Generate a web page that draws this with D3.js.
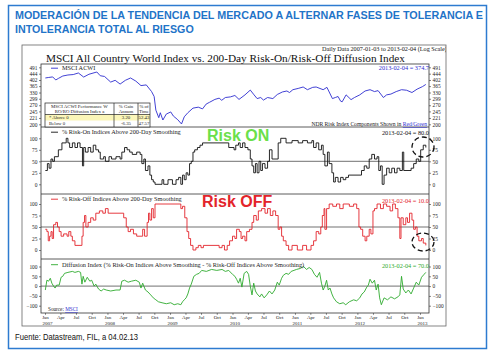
<!DOCTYPE html>
<html>
<head>
<meta charset="utf-8">
<script src="https://cdn.jsdelivr.net/npm/d3@7"></script>
<style>
  body { margin: 0; background: #fff; }
  svg { display: block; }
</style>
</head>
<body>
<svg id="chart" width="493" height="354"></svg>
<script>
// ---- data ----
const msci = [
  ["2007-01-03",415],["2007-01-20",418],["2007-02-15",422],["2007-03-05",402],["2007-03-20",412],
  ["2007-04-15",428],["2007-05-15",435],["2007-06-15",438],["2007-07-15",449],["2007-08-15",421],
  ["2007-09-15",440],["2007-10-31",456],["2007-11-20",430],["2007-12-15",425],["2008-01-20",389],
  ["2008-02-15",400],["2008-03-15",377],["2008-04-15",400],["2008-05-15",415],["2008-06-15",395],
  ["2008-07-15",368],["2008-08-15",372],["2008-09-15",335],["2008-09-30",310],["2008-10-10",250],
  ["2008-10-27",222],["2008-11-05",240],["2008-11-20",214],["2008-12-10",235],["2009-01-05",243],
  ["2009-01-20",228],["2009-02-15",215],["2009-03-09",201],["2009-03-25",225],["2009-04-15",240],
  ["2009-05-15",258],["2009-06-15",262],["2009-07-10",255],["2009-07-31",275],["2009-08-20",283],
  ["2009-09-20",296],["2009-10-15",302],["2009-10-30",292],["2009-11-20",305],["2009-12-20",308],
  ["2010-01-15",315],["2010-02-08",296],["2010-03-15",318],["2010-04-15",343],["2010-05-07",318],
  ["2010-05-25",300],["2010-06-15",305],["2010-07-01",293],["2010-07-25",305],["2010-08-25",300],
  ["2010-09-20",320],["2010-10-20",333],["2010-11-15",338],["2010-11-30",330],["2010-12-20",345],
  ["2011-01-20",352],["2011-02-18",360],["2011-03-15",345],["2011-04-15",358],["2011-05-05",360],
  ["2011-06-15",345],["2011-07-07",358],["2011-08-08",300],["2011-08-25",305],["2011-09-10",310],
  ["2011-09-25",288],["2011-10-04",285],["2011-10-27",318],["2011-11-25",295],["2011-12-15",305],
  ["2012-01-15",318],["2012-02-15",338],["2012-03-15",345],["2012-04-10",335],["2012-05-01",340],
  ["2012-06-01",305],["2012-06-20",318],["2012-07-15",322],["2012-08-15",335],["2012-09-15",345],
  ["2012-10-15",342],["2012-11-15",330],["2012-12-15",348],["2013-01-15",362],["2013-02-04",374.7]
];

const riskOn = [
  ["2007-01-03",30],["2007-01-15",45],["2007-01-25",35],["2007-02-05",55],["2007-02-15",50],["2007-02-25",60],
  ["2007-03-20",75],["2007-04-10",90],["2007-05-05",100],["2007-05-15",90],["2007-05-25",80],["2007-06-10",90],
  ["2007-06-25",80],["2007-07-10",90],["2007-07-25",80],["2007-08-08",40],["2007-08-15",80],["2007-08-25",70],
  ["2007-09-10",80],["2007-09-25",70],["2007-10-10",85],["2007-10-25",75],["2007-11-10",70],["2007-11-20",55],
  ["2007-12-10",60],["2007-12-20",50],["2008-01-10",60],["2008-01-25",55],["2008-02-20",60],["2008-03-15",55],
  ["2008-03-25",70],["2008-04-10",80],["2008-04-25",75],["2008-05-10",70],["2008-05-25",65],["2008-06-20",70],
  ["2008-07-10",65],["2008-07-20",45],["2008-08-01",55],["2008-08-10",30],["2008-08-25",40],["2008-09-05",20],
  ["2008-09-15",10],["2008-09-25",5],["2008-10-05",0],["2008-11-15",10],["2008-11-25",0],["2008-12-20",10],
  ["2009-01-15",0],["2009-02-05",10],["2009-02-20",15],["2009-03-05",0],["2009-03-15",20],["2009-03-25",10],
  ["2009-04-05",25],["2009-04-15",20],["2009-04-25",45],["2009-05-05",50],["2009-05-15",70],["2009-05-25",75],
  ["2009-06-10",80],["2009-06-25",85],["2009-07-10",90],["2009-12-10",80],["2010-01-10",75],["2010-01-20",85],
  ["2010-02-05",90],["2010-02-15",80],["2010-03-01",90],["2010-03-15",80],["2010-04-01",75],["2010-04-15",55],
  ["2010-04-25",40],["2010-05-05",25],["2010-05-15",45],["2010-05-25",25],["2010-06-05",50],["2010-06-15",30],
  ["2010-06-25",45],["2010-07-10",35],["2010-07-25",50],["2010-08-05",75],["2010-08-20",55],["2010-09-25",90],
  ["2010-10-10",100],["2010-11-10",90],["2010-12-15",95],["2011-01-20",90],["2011-02-15",95],["2011-03-15",90],
  ["2011-04-10",95],["2011-04-20",80],["2011-05-05",90],["2011-05-20",75],["2011-06-05",85],["2011-06-15",65],
  ["2011-06-25",40],["2011-07-10",70],["2011-07-20",45],["2011-08-05",25],["2011-08-15",5],["2011-08-25",15],
  ["2011-09-10",5],["2011-09-25",15],["2011-10-10",10],["2011-10-25",15],["2011-11-10",20],["2012-01-25",30],
  ["2012-02-10",40],["2012-02-25",35],["2012-03-10",55],["2012-03-25",65],["2012-04-10",55],["2012-04-25",60],
  ["2012-05-05",30],["2012-05-15",40],["2012-05-25",0],["2012-06-05",20],["2012-06-20",35],["2012-07-05",25],
  ["2012-07-20",35],["2012-08-05",25],["2012-08-20",35],["2012-09-05",30],["2012-09-20",70],["2012-09-28",30],
  ["2012-11-10",35],["2012-11-25",45],["2012-12-10",55],["2012-12-25",50],["2013-01-05",75],["2013-01-20",85],
  ["2013-02-04",80]
];

const riskOff = [
  ["2007-01-03",45],["2007-01-12",40],["2007-01-20",20],["2007-01-28",30],["2007-02-05",40],["2007-02-12",25],
  ["2007-02-20",55],["2007-03-05",60],["2007-03-15",50],["2007-03-25",40],["2007-04-05",30],["2007-04-20",35],
  ["2007-05-10",30],["2007-05-20",40],["2007-06-01",30],["2007-06-10",20],["2007-06-25",10],["2007-08-05",30],
  ["2007-08-12",60],["2007-08-20",75],["2007-08-28",50],["2007-09-10",60],["2007-09-25",70],["2007-10-10",65],
  ["2007-10-25",80],["2007-11-15",85],["2007-12-05",80],["2007-12-20",90],["2008-01-05",80],["2008-04-05",70],
  ["2008-04-20",50],["2008-05-01",40],["2008-05-15",45],["2008-06-01",35],["2008-06-20",30],["2008-07-25",45],
  ["2008-08-05",30],["2008-08-20",60],["2008-08-28",80],["2008-09-05",65],["2008-09-15",90],["2008-09-25",70],
  ["2008-10-05",100],["2009-03-05",90],["2009-03-15",95],["2009-03-28",70],["2009-04-10",40],["2009-04-20",25],
  ["2009-05-01",10],["2009-05-15",0],["2009-06-01",5],["2009-06-15",10],["2009-07-01",5],["2009-07-15",10],
  ["2009-10-15",5],["2009-11-01",10],["2009-11-15",0],["2009-12-01",10],["2009-12-15",20],["2010-01-01",30],
  ["2010-01-15",25],["2010-01-25",45],["2010-02-10",40],["2010-02-20",25],["2010-03-01",30],["2010-03-15",20],
  ["2010-03-25",40],["2010-04-10",45],["2010-04-25",60],["2010-05-05",75],["2010-05-20",65],["2010-06-01",85],
  ["2010-06-20",90],["2010-07-10",80],["2010-07-25",90],["2010-08-10",75],["2010-08-25",85],["2010-09-10",75],
  ["2010-09-25",45],["2010-10-05",50],["2010-10-15",30],["2010-10-25",20],["2010-11-10",10],["2010-11-25",0],
  ["2010-12-15",10],["2011-01-15",0],["2011-02-15",10],["2011-03-10",0],["2011-04-05",10],["2011-04-20",20],
  ["2011-05-05",40],["2011-05-20",35],["2011-06-01",50],["2011-06-10",75],["2011-06-20",90],["2011-06-25",45],
  ["2011-07-05",90],["2011-07-20",100],["2011-08-10",95],["2011-09-01",100],["2011-09-20",90],["2011-10-10",100],
  ["2011-11-15",95],["2011-12-10",100],["2011-12-28",90],["2012-01-10",50],["2012-01-20",45],["2012-02-01",30],
  ["2012-02-15",20],["2012-02-25",30],["2012-03-10",45],["2012-03-20",35],["2012-04-01",85],["2012-04-10",90],
  ["2012-04-25",100],["2012-05-15",90],["2012-06-01",100],["2012-06-20",95],["2012-07-10",85],["2012-07-25",100],
  ["2012-08-10",90],["2012-08-25",70],["2012-09-05",25],["2012-09-12",70],["2012-09-25",55],["2012-10-10",70],
  ["2012-10-20",60],["2012-11-01",80],["2012-11-15",65],["2012-11-25",45],["2012-12-05",50],["2012-12-15",30],
  ["2012-12-25",20],["2013-01-10",25],["2013-01-20",15],["2013-02-04",10]
];

const diffusion = [
  ["2007-01-03",-20],["2007-01-12",30],["2007-01-22",25],["2007-02-01",40],["2007-02-10",15],["2007-02-20",0],
  ["2007-03-01",-10],["2007-03-10",5],["2007-03-25",5],["2007-04-05",45],["2007-04-15",50],["2007-04-25",65],
  ["2007-05-15",70],["2007-06-10",75],["2007-06-25",70],["2007-07-15",75],["2007-07-28",70],["2007-08-05",10],
  ["2007-08-12",50],["2007-08-22",20],["2007-09-05",45],["2007-09-20",25],["2007-10-01",30],["2007-10-15",0],
  ["2007-10-25",10],["2007-11-10",-15],["2007-11-25",-25],["2007-12-10",-15],["2007-12-25",-20],["2008-01-20",-25],
  ["2008-02-20",-20],["2008-03-15",-20],["2008-03-25",25],["2008-04-10",30],["2008-05-01",20],["2008-05-20",25],
  ["2008-06-15",30],["2008-07-05",20],["2008-07-15",-10],["2008-07-25",15],["2008-08-10",-20],["2008-08-25",-30],
  ["2008-09-10",-45],["2008-09-25",-60],["2008-10-10",-70],["2008-10-25",-80],["2008-11-15",-85],["2008-12-10",-90],
  ["2009-01-05",-85],["2009-01-25",-95],["2009-02-15",-90],["2009-03-05",-95],["2009-03-15",-80],["2009-03-25",-70],
  ["2009-04-05",-60],["2009-04-15",-40],["2009-04-25",-10],["2009-05-05",10],["2009-05-20",50],["2009-06-05",60],
  ["2009-06-20",65],["2009-07-05",80],["2009-08-01",75],["2009-09-01",85],["2009-10-01",80],["2009-11-01",85],
  ["2009-11-20",75],["2009-12-10",80],["2010-01-01",60],["2010-01-15",50],["2010-01-25",35],["2010-02-05",15],
  ["2010-02-15",40],["2010-02-25",-5],["2010-03-10",65],["2010-03-25",75],["2010-04-05",60],["2010-04-15",0],
  ["2010-04-25",-45],["2010-05-05",15],["2010-05-15",-25],["2010-05-25",-40],["2010-06-10",-55],["2010-06-20",-40],
  ["2010-07-05",-60],["2010-07-20",-45],["2010-08-05",-25],["2010-08-20",-40],["2010-09-05",-20],["2010-09-20",20],
  ["2010-10-01",5],["2010-10-15",40],["2010-10-25",55],["2010-11-10",65],["2010-11-25",60],["2010-12-10",75],
  ["2011-01-10",85],["2011-02-01",90],["2011-02-20",100],["2011-03-10",85],["2011-03-25",95],["2011-04-10",85],
  ["2011-04-25",60],["2011-05-10",45],["2011-05-25",70],["2011-06-05",15],["2011-06-15",-20],["2011-06-25",0],
  ["2011-07-05",30],["2011-07-15",-20],["2011-07-25",-10],["2011-08-05",-40],["2011-08-15",-60],["2011-09-01",-80],
  ["2011-09-20",-90],["2011-10-10",-85],["2011-10-25",-95],["2011-11-15",-80],["2011-12-10",-70],["2011-12-28",-75],
  ["2012-01-15",-60],["2012-01-28",-40],["2012-02-10",-30],["2012-02-25",-5],["2012-03-05",5],["2012-03-15",35],
  ["2012-03-28",15],["2012-04-10",30],["2012-04-20",-20],["2012-05-01",10],["2012-05-10",-60],["2012-05-20",-95],
  ["2012-06-05",-60],["2012-06-25",-70],["2012-07-15",-55],["2012-08-05",-65],["2012-08-25",-55],["2012-09-05",-45],
  ["2012-09-15",50],["2012-09-25",-15],["2012-10-10",-35],["2012-10-25",-20],["2012-11-10",-40],["2012-11-25",-10],
  ["2012-12-10",20],["2012-12-25",5],["2013-01-10",45],["2013-01-25",60],["2013-02-04",70]
];

const msciTicks = [200, 221, 245, 270, 299, 330, 365, 402, 444, 491];
const pctTicks = [0, 25, 50, 75, 100];
const diffTicks = [-100, -50, 0, 50, 100];
const yearLabels = [2007, 2008, 2009, 2010, 2011, 2012, 2013];
const tableHeader = [["MSCI ACWI Performance W", "RO/RO Diffusion Index a"], ["% Gain", "Annum"], ["% of", "Time"]];
const tableRows = [["* Above 0", "3.20", "52.43"], ["Below 0", "-6.35", "47.57"]];

// ---- page ----
const svg = d3.select("#chart");
const parse = d3.timeParse("%Y-%m-%d");
const serif = "'Liberation Serif', 'DejaVu Serif', serif";
const sans = "'Liberation Sans', Arial, sans-serif";

// blue frame and heading
svg.append("rect").attr("x", 8.5).attr("y", 5.5).attr("width", 478).attr("height", 343)
  .attr("fill", "none").attr("stroke", "#2d7bd0").attr("stroke-width", 1.5);

svg.append("text").attr("x", 15).attr("y", 18.5)
  .attr("font-family", sans).attr("font-weight", "bold").attr("font-size", 10.7).attr("fill", "#1f74c8")
  .attr("textLength", 468).attr("lengthAdjust", "spacingAndGlyphs")
  .text("MODERACIÓN DE LA TENDENCIA DEL MERCADO A ALTERNAR FASES DE TOLERANCIA E");
svg.append("text").attr("x", 15).attr("y", 32.5)
  .attr("font-family", sans).attr("font-weight", "bold").attr("font-size", 10.7).attr("fill", "#1f74c8")
  .text("INTOLERANCIA TOTAL AL RIESGO");

svg.append("text").attr("x", 15).attr("y", 340)
  .attr("font-family", "'Liberation Sans Narrow', 'Arial Narrow', " + sans).attr("font-size", 9.5).attr("fill", "#111")
  .attr("textLength", 123).attr("lengthAdjust", "spacingAndGlyphs")
  .text("Fuente: Datastream, FIL, a 04.02.13");

// chart picture box
const box = { x: 22, y: 45, w: 424, h: 281 };
svg.append("rect").attr("x", box.x).attr("y", box.y).attr("width", box.w).attr("height", box.h)
  .attr("fill", "#fff").attr("stroke", "#666").attr("stroke-width", 0.8);

const defs = svg.append("defs");
defs.append("clipPath").attr("id", "boxClip").append("rect")
  .attr("x", box.x).attr("y", box.y).attr("width", box.w).attr("height", box.h);

const chart = svg.append("g").attr("clip-path", "url(#boxClip)");

chart.append("text").attr("x", 322).attr("y", 51)
  .attr("font-family", serif).attr("font-size", 6.2).attr("fill", "#111")
  .text("Daily Data 2007-01-03 to 2013-02-04 (Log Scale)");
chart.append("text").attr("x", 46).attr("y", 61.5)
  .attr("font-family", serif).attr("font-size", 10).attr("fill", "#111")
  .attr("textLength", 359).attr("lengthAdjust", "spacingAndGlyphs")
  .text("MSCI All Country World Index vs. 200-Day Risk-On/Risk-Off Diffusion Index");

// scales
const L = 41, R = 429;
const x = d3.scaleTime().domain([new Date(2007, 0, 1), new Date(2013, 0, 1)]).range([45, 420]);
const panels = [
  { top: 64, bottom: 127, y: d3.scaleLog().domain([200, 491]).range([124.3, 67.3]), ticks: msciTicks },
  { top: 127, bottom: 194, y: d3.scaleLinear().domain([0, 100]).range([184.3, 138.3]), ticks: pctTicks },
  { top: 194, bottom: 259, y: d3.scaleLinear().domain([0, 100]).range([250, 204]), ticks: pctTicks },
  { top: 259, bottom: 313, y: d3.scaleLinear().domain([-100, 100]).range([305.7, 266.5]), ticks: diffTicks }
];

panels.forEach((p, i) => {
  defs.append("clipPath").attr("id", "pc" + i).append("rect")
    .attr("x", L).attr("y", p.top).attr("width", R - L).attr("height", p.bottom - p.top);

  const left = chart.append("g").attr("transform", `translate(${L},0)`)
    .call(d3.axisLeft(p.y).tickValues(p.ticks).tickFormat(d3.format("d")).tickSize(2).tickPadding(1.5));
  const right = chart.append("g").attr("transform", `translate(${R},0)`)
    .call(d3.axisRight(p.y).tickValues(p.ticks).tickFormat(d3.format("d")).tickSize(2).tickPadding(1.5));
  [left, right].forEach(a => {
    a.select(".domain").remove();
    a.selectAll("line").attr("stroke", "#333").attr("stroke-width", 0.6);
    a.selectAll("text").attr("font-family", serif).attr("font-size", 5.4).attr("fill", "#222");
  });
});

// reference lines
[[panels[1], 50], [panels[2], 50], [panels[3], 0]].forEach(([p, v]) => {
  chart.append("line").attr("x1", L).attr("x2", R).attr("y1", p.y(v)).attr("y2", p.y(v))
    .attr("stroke", "#333").attr("stroke-width", 0.7);
});

// series
function drawSeries(data, p, i, color, curve) {
  const line = d3.line().x(d => x(parse(d[0]))).y(d => p.y(d[1])).curve(curve);
  chart.append("path").datum(data).attr("clip-path", `url(#pc${i})`)
    .attr("fill", "none").attr("stroke", color).attr("stroke-width", 0.9)
    .attr("stroke-linejoin", "round").attr("d", line);
}
drawSeries(msci, panels[0], 0, "#2c2ccf", d3.curveLinear);
drawSeries(riskOn, panels[1], 1, "#111", d3.curveStepAfter);
drawSeries(riskOff, panels[2], 2, "#e3242b", d3.curveStepAfter);
drawSeries(diffusion, panels[3], 3, "#2eaa2e", d3.curveLinear);

// panel frames
const frame = chart.append("g").attr("stroke", "#333").attr("stroke-width", 0.8).attr("fill", "none");
frame.append("rect").attr("x", L).attr("y", 64).attr("width", R - L).attr("height", 313 - 64);
[127, 194, 259].forEach(yy => frame.append("line").attr("x1", L).attr("x2", R).attr("y1", yy).attr("y2", yy));

// x axis: quarter months, years underneath
const quarters = d3.timeMonth.every(3).range(new Date(2007, 0, 1), new Date(2013, 0, 2));
const xa = chart.append("g").attr("transform", "translate(0,313)")
  .call(d3.axisBottom(x).tickValues(quarters).tickFormat(d3.timeFormat("%b")).tickSize(1.8).tickPadding(0.4));
xa.select(".domain").remove();
xa.selectAll("line").attr("stroke", "#333").attr("stroke-width", 0.6);
xa.selectAll("text").attr("font-family", serif).attr("font-size", 5).attr("fill", "#222");
chart.selectAll(".yr").data(yearLabels).join("text").attr("class", "yr")
  .attr("x", d => x(new Date(d, 0, 1)) - 2.5).attr("y", 324.6)
  .attr("font-family", serif).attr("font-size", 5).attr("fill", "#222").text(d => d);

// legends and end values
function legend(yy, color, label) {
  chart.append("line").attr("x1", 51).attr("x2", 58).attr("y1", yy - 1.8).attr("y2", yy - 1.8)
    .attr("stroke", color).attr("stroke-width", 0.9);
  chart.append("text").attr("x", 62).attr("y", yy).attr("font-family", serif).attr("font-size", 6.3)
    .attr("fill", "#222").text(label);
}
legend(70, "#2c2ccf", "MSCI ACWI");
legend(134, "#111", "% Risk-On Indices Above 200-Day Smoothing");
legend(201, "#e3242b", "% Risk-Off Indices Above 200-Day Smoothing");
legend(266.5, "#2eaa2e", "Diffusion Index (% Risk-On Indices Above Smoothing - % Risk-Off Indices Above Smoothing)");

function endValue(yy, color, label) {
  chart.append("text").attr("x", 429).attr("y", yy).attr("text-anchor", "end")
    .attr("font-family", serif).attr("font-size", 6.3).attr("fill", color).text(label);
}
endValue(70, "#2c2ccf", "2013-02-04 = 374.7");
endValue(135, "#111", "2013-02-04 = 80.0");
endValue(202.5, "#e3242b", "2013-02-04 = 10.0");
endValue(267.5, "#2eaa2e", "2013-02-04 = 70.0");

const ndr = chart.append("text").attr("x", 427).attr("y", 126).attr("text-anchor", "end")
  .attr("font-family", serif).attr("font-size", 5.6).attr("fill", "#222");
ndr.append("tspan").text("NDR Risk Index Components Shown in ");
ndr.append("tspan").attr("fill", "#2c2ccf").attr("text-decoration", "underline").text("Red/Green");

const src = chart.append("text").attr("x", 48).attr("y", 311)
  .attr("font-family", serif).attr("font-size", 5.2).attr("fill", "#222");
src.append("tspan").text("Source: ");
src.append("tspan").attr("fill", "#2c2ccf").attr("text-decoration", "underline").text("MSCI");

// performance table
const cols = [45, 114, 138, 150];
const rowsY = [103, 114.5, 120.5, 127];
const tbl = chart.append("g");
tbl.append("rect").attr("x", cols[0]).attr("y", rowsY[0]).attr("width", cols[3] - cols[0]).attr("height", rowsY[3] - rowsY[0])
  .attr("fill", "#fff");
tbl.append("rect").attr("x", cols[0]).attr("y", rowsY[1]).attr("width", cols[3] - cols[0]).attr("height", rowsY[2] - rowsY[1])
  .attr("fill", "#fbf6b8");
tbl.append("rect").attr("x", cols[0]).attr("y", rowsY[0]).attr("width", cols[3] - cols[0]).attr("height", rowsY[3] - rowsY[0])
  .attr("fill", "none").attr("stroke", "#222").attr("stroke-width", 0.7);
[cols[1], cols[2]].forEach(cx => tbl.append("line").attr("x1", cx).attr("x2", cx).attr("y1", rowsY[0]).attr("y2", rowsY[3])
  .attr("stroke", "#222").attr("stroke-width", 0.7));
tbl.append("line").attr("x1", cols[0]).attr("x2", cols[3]).attr("y1", rowsY[1]).attr("y2", rowsY[1])
  .attr("stroke", "#222").attr("stroke-width", 0.7);
tableHeader.forEach((h, c) => {
  const cx = (cols[c] + cols[c + 1]) / 2;
  h.forEach((t, k) => tbl.append("text").attr("x", cx).attr("y", 108 + k * 5).attr("text-anchor", "middle")
    .attr("font-family", serif).attr("font-size", 4.8).attr("fill", "#222").text(t));
});
tableRows.forEach((r, k) => {
  const yy = (rowsY[k + 1] + rowsY[k + 2]) / 2 + 1.7;
  tbl.append("text").attr("x", cols[0] + 4).attr("y", yy).attr("font-family", serif).attr("font-size", 4.8)
    .attr("fill", "#222").text(r[0]);
  [1, 2].forEach(c => tbl.append("text").attr("x", (cols[c] + cols[c + 1]) / 2).attr("y", yy)
    .attr("text-anchor", "middle").attr("font-family", serif).attr("font-size", 4.8).attr("fill", "#222").text(r[c]));
});

// Risk ON / Risk OFF tags
chart.append("text").attr("x", 207).attr("y", 141).attr("font-family", sans).attr("font-weight", "bold")
  .attr("font-size", 16).attr("fill", "#6be04a").text("Risk ON");
chart.append("text").attr("x", 202).attr("y", 207).attr("font-family", sans).attr("font-weight", "bold")
  .attr("font-size", 16).attr("fill", "#e3242b").text("Risk OFF");

// dashed highlight circles
[[423, 147, 11, 10], [423, 242, 11, 9]].forEach(([cx, cy, rx, ry]) => {
  chart.append("ellipse").attr("cx", cx).attr("cy", cy).attr("rx", rx).attr("ry", ry)
    .attr("fill", "none").attr("stroke", "#111").attr("stroke-width", 1.3).attr("stroke-dasharray", "5,3");
});
</script>
</body>
</html>
